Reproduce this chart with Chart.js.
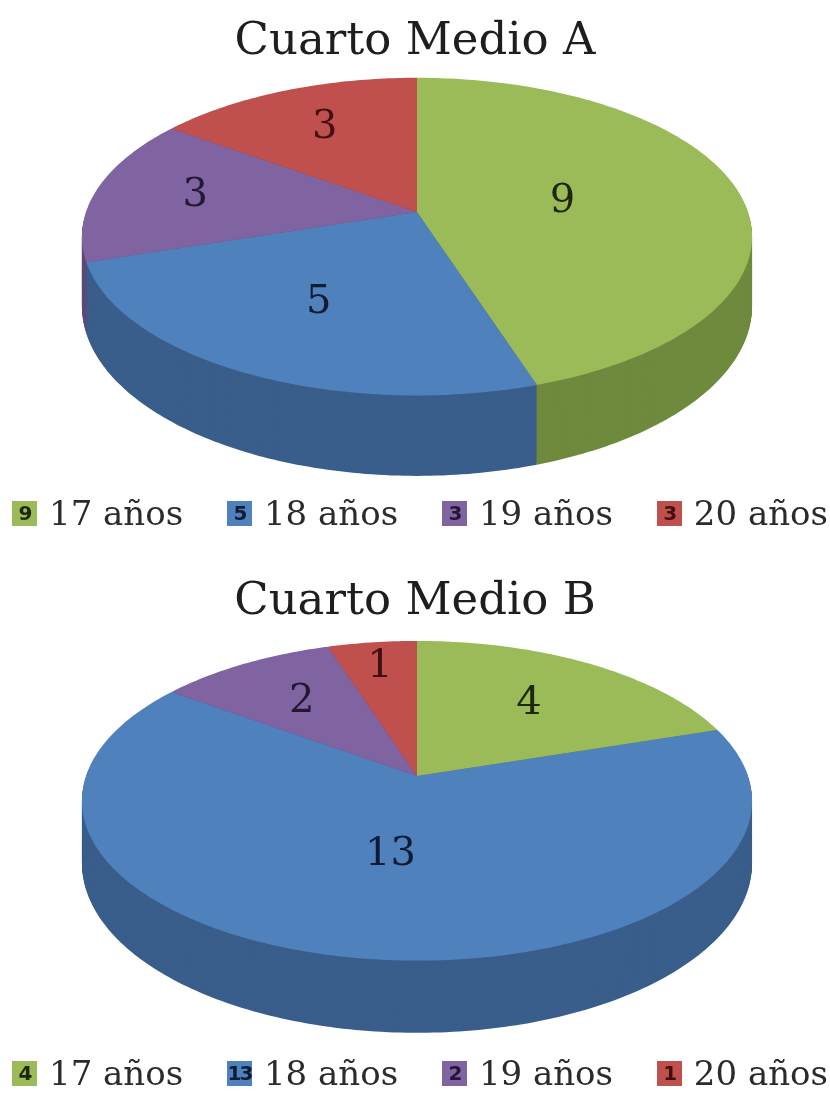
<!DOCTYPE html>
<html>
<head>
<meta charset="utf-8">
<script src="https://cdn.jsdelivr.net/npm/chart.js@4.4.1/dist/chart.umd.min.js"></script>
<style>
    body { margin: 0; background: #fff; width: 830px; height: 1094px; overflow: hidden; }
    .block { position: absolute; left: 0; width: 830px; }
    #blockA { top: 0; }
    #blockB { top: 560px; }
    canvas { display: block; }
    .legend {
        display: flex; justify-content: space-between; align-items: center;
        height: 36px; padding: 0 2px 0 12px;
        font-family: "DejaVu Serif", serif; font-size: 34px; color: #2b2b2b;
    }
    .item { display: flex; align-items: center; }
    .box {
        width: 25px; height: 25px; margin-right: 12px;
        display: flex; align-items: center; justify-content: center;
        font: bold 20px "DejaVu Sans", sans-serif; letter-spacing: -2px;
    }
</style>
</head>
<body>
<div class="block" id="blockA">
    <canvas id="chartA" width="830" height="495"></canvas>
    <div class="legend" id="legendA"></div>
</div>
<div class="block" id="blockB">
    <canvas id="chartB" width="830" height="495"></canvas>
    <div class="legend" id="legendB"></div>
</div>
<script>
const ageLabels = ['17 años', '18 años', '19 años', '20 años'];

const titleA = 'Cuarto Medio A';
const countsA = [9, 5, 3, 3];

const titleB = 'Cuarto Medio B';
const countsB = [4, 13, 2, 1];

const topColors = ['#9bbb59', '#4f81bd', '#8064a2', '#c0504d'];
const sideColors = ['#6f8a3d', '#3a5e8b', '#5e4a78', '#8e3b39'];
const textColors = ['#1e260b', '#101c33', '#231834', '#431010'];

// tilted pie with a side wall, angles taken from the pie's own arc elements
const pie3d = {
    id: 'pie3d',
    beforeDatasetsDraw(chart, args, opts) {
        const ctx = chart.ctx;
        const arcs = chart.getDatasetMeta(0).data;
        const values = chart.data.datasets[0].data;

        const project = (angle, f, z) => {
            const u = f * Math.cos(angle);
            const v = f * Math.sin(angle);
            const s = 1 / (1 - opts.tilt * v);
            return [opts.cx + opts.rx * u * s, opts.cy + (opts.ry * v + z) * s];
        };

        const sector = (arc, z) => {
            const span = arc.endAngle - arc.startAngle;
            const steps = Math.max(4, Math.ceil(span * 60));
            ctx.beginPath();
            let p = project(0, 0, z);
            ctx.moveTo(p[0], p[1]);
            for (let k = 0; k <= steps; k++) {
                p = project(arc.startAngle + (span * k) / steps, 1, z);
                ctx.lineTo(p[0], p[1]);
            }
            ctx.closePath();
        };

        ctx.save();
        for (let z = opts.depth; z > 0; z -= 1) {
            arcs.forEach((arc, i) => {
                sector(arc, z);
                ctx.fillStyle = sideColors[i];
                ctx.fill();
            });
        }
        arcs.forEach((arc, i) => {
            sector(arc, 0);
            ctx.fillStyle = arc.options.backgroundColor;
            ctx.fill();
        });

        ctx.font = '40px "DejaVu Serif"';
        ctx.textAlign = 'center';
        ctx.textBaseline = 'middle';
        arcs.forEach((arc, i) => {
            const mid = (arc.startAngle + arc.endAngle) / 2;
            const p = project(mid, opts.labelRadius[i], 0);
            ctx.fillStyle = textColors[i];
            ctx.fillText(String(values[i]), p[0], p[1]);
        });
        ctx.restore();
        return false;
    },
};

function buildLegend(id, counts) {
    const el = document.getElementById(id);
    ageLabels.forEach((label, i) => {
        const item = document.createElement('div');
        item.className = 'item';
        const box = document.createElement('span');
        box.className = 'box';
        box.style.background = topColors[i];
        box.style.color = textColors[i];
        box.textContent = counts[i];
        const text = document.createElement('span');
        text.textContent = label;
        item.appendChild(box);
        item.appendChild(text);
        el.appendChild(item);
    });
}

function createPie(canvasId, title, counts, geometry) {
    const ctx = document.getElementById(canvasId).getContext('2d');
    // eslint-disable-next-line no-undef
    return new Chart(ctx, {
        type: 'pie',
        data: {
            labels: ageLabels,
            datasets: [
                {
                    data: counts,
                    backgroundColor: topColors,
                    borderWidth: 0,
                },
            ],
        },
        options: {
            responsive: false,
            animation: false,
            devicePixelRatio: 1,
            plugins: {
                legend: { display: false },
                tooltip: { enabled: false },
                title: {
                    display: true,
                    text: title,
                    color: '#1e1e1e',
                    font: { family: 'DejaVu Serif', size: 45, weight: 'normal' },
                    padding: { top: 15, bottom: 0 },
                },
                pie3d: geometry,
            },
        },
        plugins: [pie3d],
    });
}

createPie('chartA', titleA, countsA, {
    cx: 417, cy: 212, rx: 331, ry: 155, tilt: 0.155, depth: 68,
    labelRadius: [0.45, 0.6, 0.69, 0.67],
});
createPie('chartB', titleB, countsB, {
    cx: 417, cy: 216, rx: 331, ry: 156, tilt: 0.155, depth: 61,
    labelRadius: [0.62, 0.475, 0.64, 0.8],
});
buildLegend('legendA', countsA);
buildLegend('legendB', countsB);
</script>
</body>
</html>
